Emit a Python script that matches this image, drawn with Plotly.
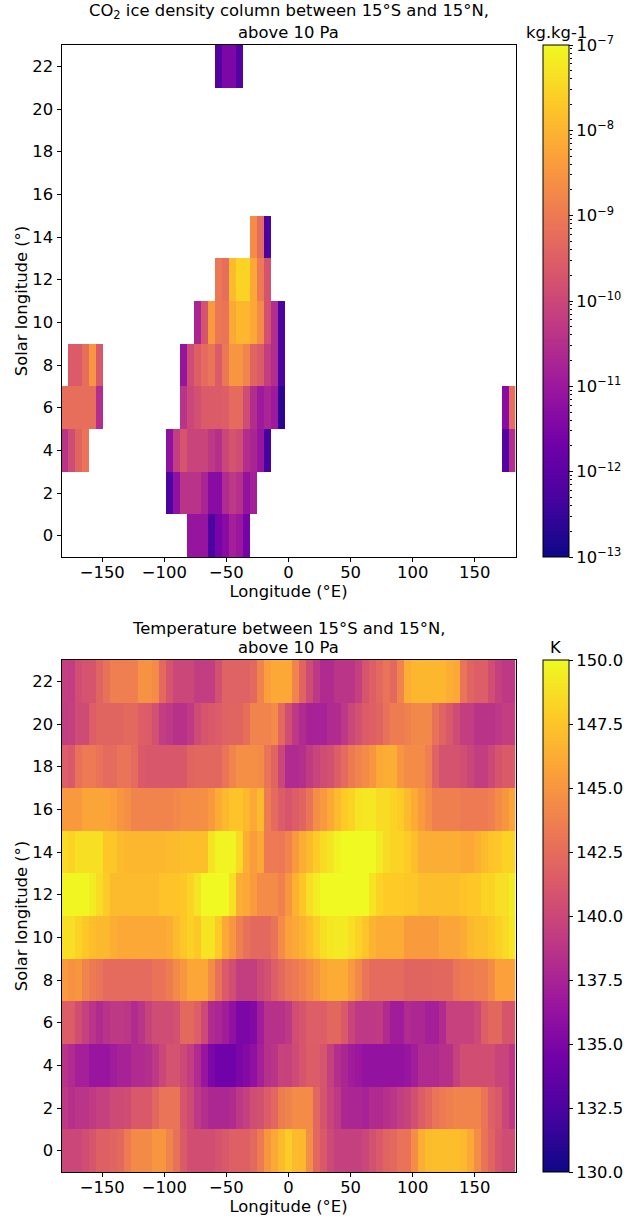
import plotly.graph_objects as go

# longitude des mailles (centres) et Ls
lon = [-180 + 5.625 * i for i in range(65)]
ls = [0, 2, 4, 6, 8, 10, 12, 14, 16, 18, 20, 22]

# colonne de glace CO2, log10(kg/kg), chaque ligne : (premiere maille, valeurs)
ice_0 = [(18, [-11.08, -11.08, -11.08, -12.22, -11.62, -11.32, -10.84, -11.02, -11.62])]
ice_2 = [(15, [-12.22, -11.2, -10.42, -10.42, -10.42, -10.72, -11.32, -11.32, -10.6, -10.3, -10.48, -11.14, -10.84])]
ice_4 = [(0, [-10.42, -9.88, -9.4, -9.1]),
         (15, [-11.2, -10.18, -9.7, -10.06, -10.06, -10.06, -10.3, -10.48, -10, -9.76, -9.88, -10.54, -10.72, -11.08, -12.34]),
         (63, [-12.1, -10.54])]
ice_6 = [(0, [-9.22, -9.22, -9.22, -9.22, -9.22, -10.54]),
         (17, [-10.42, -10, -9.82, -9.58, -9.58, -9.58, -9.52, -9.28, -9.28, -9.88, -10.54, -10.96, -10.72, -10.96, -12.64]),
         (63, [-11.32, -9.22])]
ice_8 = [(1, [-9.58, -9.58, -9.22, -8.5, -9.64]),
         (17, [-11.08, -9.88, -9.52, -9.28, -9.1, -9.58, -9.04, -8.5, -8.5, -8.8, -9.4, -9.58, -10.18, -10.54, -12.22])]
ice_10 = [(19, [-10.72, -9.76, -8.44, -9.04, -9.1, -8.2, -7.96, -7.96, -8.2, -8.68, -9.82, -10.54, -12.22])]
ice_12 = [(22, [-9.04, -9.22, -7.9, -7.54, -7.54, -8.2, -8.98, -9.76])]
ice_14 = [(27, [-8.68, -9.28, -12.22])]
ice_22 = [(22, [-12.1, -11.5, -11.5, -12.1])]
ice_rows = [ice_0, ice_2, ice_4, ice_6, ice_8, ice_10, ice_12, ice_14, [], [], [], ice_22]

# temperature (K)
temp_0 = [140, 140, 140, 140.5, 141, 141.7, 141.7, 142, 142.3, 143.4, 144.3, 144.3, 144.3, 145, 145, 144, 142.8, 141.3, 140.5, 140.5, 140.5, 140.5, 140.8, 141.2, 141.7, 141.7, 141.7, 142.3, 143.4, 145, 146, 147, 147.9,
          147, 146.9, 144.5, 142.2, 141.2, 140.2, 139.5, 139.5, 139.5, 139.5, 140, 140.7, 141.3, 142, 142.3, 142.9, 142.9, 144.5, 146.3, 147, 147.2, 147.2, 147.2, 147.2, 146.9, 146, 144.5, 142.9, 142, 141, 140.4, 140.4]
temp_2 = [139, 138.4, 138.7, 138.7, 139.1, 139.5, 139.5, 140.2, 140.2, 140.4, 141.2, 141.2, 141.2, 142.2, 143, 143, 143, 141, 140.2, 139, 138.3, 137.8, 137.8, 137.8, 138, 139, 139.5, 140.4, 140.7, 141.5, 142.2, 143.5, 144,
          144.4, 144.4, 144.4, 142.2, 140.8, 139.8, 139, 137.8, 137.7, 137.7, 137.4, 138, 138, 138.4, 138.8, 139.3, 139.7, 140.7, 141.5, 142.2, 143, 143.4, 143.7, 144, 144, 144, 144, 143, 141.7, 141.2, 140, 139]
temp_4 = [138.6, 138, 137.2, 137.2, 136.5, 136.5, 136.5, 137, 137.4, 137.4, 138, 138, 138.3, 139, 140, 140.8, 140.8, 140.1, 139.3, 138, 136.5, 135, 134.4, 134.4, 134.4, 135, 135.4, 136, 137.2, 138.4, 138.7, 139.7, 139.6,
          140.3, 141, 141.5, 141.5, 140.9, 139.5, 138.3, 137.7, 137, 136.7, 136.2, 136.2, 136.2, 136.2, 136.2, 136.2, 136.5, 137.1, 138, 138, 138, 138.4, 138.4, 139.5, 140.5, 140.5, 140.5, 140.5, 140.5, 139.8, 139.8, 138.9]
temp_6 = [141.5, 141.5, 140.5, 139.5, 138.7, 138, 138.6, 139, 139, 138.8, 138, 138.7, 139.7, 140.4, 140.4, 140.4, 140.7, 142.3, 142.3, 141.6, 140.2, 138, 137.7, 137, 136, 135, 135, 135.3, 137, 138.5, 138.5, 138.5, 139,
          140.5, 141, 141.6, 141.6, 141.6, 142.2, 142.2, 141.2, 139.8, 139, 139, 139, 139.1, 138, 137, 137, 138, 137.8, 137.8, 137.2, 137.2, 138, 139.6, 139.6, 139.6, 139.6, 140.2, 141.6, 142.2, 142.2, 141, 141]
temp_8 = [145.2, 144.8, 145, 144, 143.4, 143, 142.4, 142.4, 142.4, 142.4, 142.4, 142.4, 142.4, 142.9, 142.9, 143.5, 144.3, 145.1, 145.9, 145.9, 145.9, 144.4, 142.8, 141.3, 140.5, 139.4, 139.4, 139.4, 140.2, 140.7, 141.6, 142.3, 143,
          143.4, 143.8, 144.4, 145, 145.8, 146.2, 146.2, 146.2, 145.2, 144.2, 143, 142.4, 142.4, 142.4, 142.4, 142.4, 142, 142, 142, 142, 142.2, 142.2, 142.2, 143, 143.4, 143.4, 143.7, 143.7, 144.4, 145.6, 145.6, 145.6]
temp_10 = [148.8, 148.7, 148.2, 147.7, 147.2, 146.9, 146.9, 146.3, 146, 146, 146, 146, 146, 146, 146, 146.3, 147, 147.7, 148.1, 147.7, 149, 149, 147.8, 146, 145, 143.7, 142.8, 142.3, 142.3, 142.3, 143, 144.4,
           145.6, 146, 146.5, 147.2, 147.9, 148.8, 149.2, 149.3, 149.3, 148.8, 148.2, 147.5, 146.6, 146.2, 146.2, 146.2, 146.2, 145.3, 145.3, 145.3, 145.3, 145.3, 145.8, 145.8, 145.8, 146.2, 146.9, 147.2, 147.2, 147.6, 148.1, 148.6, 149.2]
temp_12 = [149.8, 149.8, 149.8, 149.8, 149.4, 148.6, 147.8, 147, 147, 147, 147, 147, 147, 147, 147.4, 147.4, 147.4, 147.7, 148.2, 149, 150, 150, 150, 150, 148.8, 146.3, 146, 145.3, 144.4, 144.4, 144.4, 143.8, 145,
           146.5, 147.5, 148.7, 149.4, 150, 150, 150, 150, 150, 150, 150, 149, 148.2, 147.8, 147.8, 147.8, 147.6, 147.6, 147.2, 147.2, 147.2, 147.2, 147.2, 147.2, 147.4, 147.7, 147.7, 148.2, 148.2, 148.7, 148.7, 149.4]
temp_14 = [148.6, 148.2, 148.8, 148.8, 148.8, 148.8, 147.6, 147.6, 147, 146.8, 146.8, 146.8, 146.8, 146.8, 146.8, 147, 147, 147.2, 147.2, 147.2, 147.2, 149, 149.7, 149.7, 149.7, 148.5, 146.3, 145.4, 146, 143.4, 143.4, 143.2, 144,
           145.2, 146.3, 147, 147.8, 148.6, 149.1, 149.7, 150, 150, 150, 150, 150, 149.3, 148.6, 148.2, 148.2, 147.8, 147.2, 146.3, 146.3, 146.3, 146.3, 146.3, 146.3, 146, 146, 146.5, 147, 147.4, 147.7, 148.2, 148.2]
temp_16 = [145.2, 145.2, 145.2, 145.8, 145.8, 145.8, 145.8, 145.5, 145, 144.6, 144, 144, 144, 144, 144, 144, 144.2, 144.5, 144.5, 144.5, 144.6, 145.2, 146.2, 146.9, 147.4, 147.4, 146.9, 146, 147, 143.5, 142.4, 141.5, 141,
           141.5, 142, 143, 144.5, 145.2, 146, 147, 147.8, 148.2, 149, 149.2, 149.2, 148.6, 148.6, 148.2, 147.8, 147, 146.2, 145.3, 144.5, 143.7, 143.7, 143.7, 143.7, 143.4, 143.4, 143.4, 143.4, 143.7, 144.4, 145, 145.8]
temp_18 = [141.6, 141.2, 142.8, 143.4, 143.4, 142.9, 142.4, 142.4, 143, 143, 142.4, 141.3, 141.1, 141.1, 141.1, 141.1, 141.1, 141.1, 142, 142.2, 142.2, 142.2, 142.2, 143, 144, 144.6, 144.6, 144.6, 144.4, 143, 142, 140, 138,
           138, 138.3, 139.2, 139.8, 140.4, 140.7, 141.6, 142.4, 143.4, 144, 144.4, 145, 146, 146.3, 146.3, 145, 144.4, 144.4, 144.4, 143.6, 141.8, 140.8, 140.8, 140.8, 140.5, 139.9, 139.4, 139.4, 140.1, 141, 141.3, 141.3]
temp_20 = [139.3, 139.5, 140.3, 140.3, 141.6, 142, 142, 142, 142, 142.3, 142.3, 141.6, 141.4, 140.6, 139.3, 139, 138.5, 138.5, 139.1, 140.3, 141, 141.2, 141.5, 141.8, 142, 142, 142.7, 144, 144, 144, 144.3, 142.3,
           140.5, 139, 138, 137.4, 137.4, 137.4, 138, 138, 139, 140, 140.6, 141.4, 141.7, 142, 142.8, 143.5, 143.5, 143.8, 144.2, 144.2, 144.2, 142.8, 142, 141.2, 140.3, 139.4, 139.4, 138.6, 138.6, 138.6, 139, 139.4, 139.4]
temp_22 = [139.5, 139.3, 140.5, 140.8, 141, 142, 142.8, 143.6, 143.6, 143.6, 143.6, 144.8, 144.8, 144.4, 142.3, 141, 140, 140, 140, 139.3, 139.3, 139.3, 140.7, 141.8, 141.8, 141.8, 141.8, 142.3, 144, 145.5, 146, 146,
           146, 144, 142, 140.3, 139, 138, 138, 138.7, 138.7, 138.7, 139.5, 141, 141.6, 142.3, 143, 142.3, 144, 146.3, 146.8, 146.8, 146.8, 146.8, 146.8, 146.3, 146, 143, 142, 141.6, 141.6, 140.5, 139.5, 139, 139]
temp_rows = [temp_0, temp_2, temp_4, temp_6, temp_8, temp_10, temp_12, temp_14, temp_16, temp_18, temp_20, temp_22]

# tiques de la barre log
log_major = [-13, -12, -11, -10, -9, -8, -7]
mantisses = [2, 3, 4, 5, 6, 7, 8, 9]

# on remplit la grille de glace avec des trous
ice_grid = []
for row in ice_rows:
    ligne = [None] * 65
    for debut, valeurs in row:
        for i, v in enumerate(valeurs):
            ligne[debut + i] = v
    ice_grid.append(ligne)

W = 624
H = 1217
FONT = "DejaVu Sans"
SIZE = 16.4
CB_X0 = 543
CB_X1 = 569
x_dom = [61.5 / W, 515.5 / W]
y_top = [1 - 557 / H, 1 - 45 / H]
y_bot = [1 - 1172 / H, 1 - 660 / H]
police = dict(size=SIZE, color="black", family=FONT)


def barre(y_dom):
    return dict(x=CB_X0 / W, xanchor="left", xpad=0, ypad=0, thickness=CB_X1 - CB_X0, thicknessmode="pixels",
                len=512, lenmode="pixels", y=sum(y_dom) / 2, yanchor="middle",
                ticks="outside", ticklen=4, tickcolor="black", outlinecolor="black", outlinewidth=1,
                tickfont=police)


fig = go.Figure()
fig.add_trace(go.Heatmap(
    x=lon, y=ls, z=ice_grid, colorscale="Plasma", zmin=-13, zmax=-7,
    xaxis="x", yaxis="y", hoverongaps=False,
    colorbar=dict(tickmode="array", tickvals=log_major,
                  ticktext=["10<sup>\u2212%d</sup>" % abs(m) for m in log_major], **barre(y_top)),
))
fig.add_trace(go.Heatmap(
    x=lon, y=ls, z=temp_rows, colorscale="Plasma", zmin=130, zmax=150,
    xaxis="x2", yaxis="y2",
    colorbar=dict(tick0=130, dtick=2.5, tickformat=".1f", **barre(y_bot)),
))
# petit axe log invisible, juste pour les tiques mineures de la barre
fig.add_trace(go.Scatter(x=[0], y=[1e-10], mode="markers", opacity=0, xaxis="x3", yaxis="y3",
                         showlegend=False, hoverinfo="skip"))

axe = dict(showgrid=False, zeroline=False, showline=True, mirror=True, linecolor="black", linewidth=1,
           ticks="outside", ticklen=4, tickcolor="black", tickfont=police)
xt = dict(range=[-182.8125, 182.8125], tickvals=[-150, -100, -50, 0, 50, 100, 150], ticklabelstandoff=-4,
          title=dict(text="Longitude (°E)", standoff=1, font=police), **axe)
yt = dict(range=[-1, 23], tickvals=ls,
          title=dict(text="Solar longitude (°)", standoff=0, font=police), **axe)
fig.update_layout(
    width=W, height=H, autosize=False, margin=dict(l=0, r=0, t=0, b=0),
    paper_bgcolor="white", plot_bgcolor="white", font=dict(family=FONT, color="black"),
    xaxis=dict(domain=x_dom, anchor="y", **xt),
    yaxis=dict(domain=y_top, anchor="x", **yt),
    xaxis2=dict(domain=x_dom, anchor="y2", **xt),
    yaxis2=dict(domain=y_bot, anchor="x2", **yt),
    xaxis3=dict(domain=[CB_X0 / W, CB_X1 / W], anchor="y3", visible=False),
    yaxis3=dict(domain=y_top, anchor="x3", side="right", type="log", range=[-13, -7], showline=False,
                showgrid=False, zeroline=False, showticklabels=False, ticks="",
                minor=dict(ticks="outside", ticklen=2, tickcolor="black", showgrid=False,
                           tickmode="array", tickvals=[m * 10.0 ** e for e in log_major[:-1] for m in mantisses])),
)

# titres, une annotation par ligne pour regler l'interligne
titres = [("CO<sub>2</sub> ice density column between 15°S and 15°N,", 24),
          ("above 10 Pa", 44),
          ("Temperature between 15°S and 15°N,", 640),
          ("above 10 Pa", 659)]
for texte, y_px in titres:
    fig.add_annotation(text=texte, x=288.5 / W, y=1 - y_px / H, xref="paper", yref="paper",
                       xanchor="center", yanchor="bottom", showarrow=False, font=police)
for texte, y_px in [("kg.kg-1", 44), ("K", 659)]:
    fig.add_annotation(text=texte, x=556 / W, y=1 - y_px / H, xref="paper", yref="paper",
                       xanchor="center", yanchor="bottom", showarrow=False, font=police)

fig.write_html("out.html", post_script="document.body.style.margin='0';", config={"displayModeBar": False})
